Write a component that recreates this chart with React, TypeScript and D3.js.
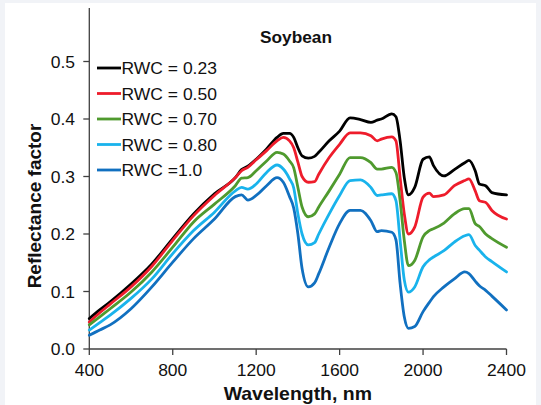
import React from "react";
import * as d3 from "d3";

const wavelengths = [400, 450, 500, 600, 700, 800, 900, 1000, 1100, 1130, 1160, 1200, 1250, 1300, 1330, 1360, 1380, 1400, 1420, 1450, 1480, 1500, 1550, 1600, 1650, 1700, 1750, 1780, 1800, 1850, 1870, 1890, 1910, 1930, 1960, 2000, 2030, 2050, 2100, 2150, 2200, 2220, 2250, 2270, 2300, 2330, 2400];

const rwc023 = [0.053, 0.068, 0.082, 0.113, 0.148, 0.192, 0.235, 0.27, 0.298, 0.312, 0.318, 0.33, 0.348, 0.368, 0.375, 0.375, 0.368, 0.35, 0.336, 0.332, 0.335, 0.342, 0.362, 0.379, 0.402, 0.399, 0.394, 0.398, 0.4, 0.409, 0.404, 0.362, 0.298, 0.268, 0.281, 0.33, 0.334, 0.319, 0.301, 0.312, 0.324, 0.328, 0.31, 0.287, 0.284, 0.272, 0.268];
const rwc050 = [0.047, 0.063, 0.078, 0.108, 0.144, 0.189, 0.232, 0.267, 0.298, 0.31, 0.316, 0.329, 0.345, 0.362, 0.368, 0.362, 0.35, 0.325, 0.3, 0.29, 0.291, 0.304, 0.333, 0.356, 0.376, 0.376, 0.371, 0.362, 0.365, 0.369, 0.362, 0.298, 0.235, 0.2, 0.212, 0.264, 0.271, 0.265, 0.268, 0.284, 0.293, 0.296, 0.275, 0.258, 0.255, 0.241, 0.226];
const rwc070 = [0.042, 0.056, 0.07, 0.099, 0.134, 0.177, 0.221, 0.252, 0.284, 0.297, 0.298, 0.31, 0.327, 0.342, 0.339, 0.327, 0.315, 0.281, 0.247, 0.23, 0.235, 0.247, 0.275, 0.304, 0.333, 0.333, 0.324, 0.313, 0.313, 0.316, 0.307, 0.258, 0.189, 0.145, 0.154, 0.195, 0.206, 0.209, 0.219, 0.235, 0.244, 0.244, 0.218, 0.213, 0.2, 0.192, 0.177];
const rwc080 = [0.033, 0.046, 0.059, 0.088, 0.122, 0.166, 0.206, 0.238, 0.275, 0.281, 0.278, 0.287, 0.307, 0.32, 0.313, 0.296, 0.28, 0.235, 0.2, 0.181, 0.185, 0.2, 0.235, 0.267, 0.293, 0.294, 0.281, 0.267, 0.268, 0.27, 0.258, 0.189, 0.12, 0.099, 0.108, 0.143, 0.155, 0.16, 0.171, 0.186, 0.197, 0.199, 0.18, 0.172, 0.16, 0.152, 0.134];
const rwc100 = [0.024, 0.033, 0.042, 0.07, 0.108, 0.151, 0.192, 0.226, 0.265, 0.268, 0.259, 0.267, 0.284, 0.298, 0.29, 0.265, 0.245, 0.2, 0.14, 0.108, 0.115, 0.131, 0.177, 0.218, 0.241, 0.241, 0.223, 0.204, 0.206, 0.203, 0.19, 0.114, 0.056, 0.036, 0.039, 0.065, 0.081, 0.091, 0.108, 0.122, 0.134, 0.131, 0.118, 0.11, 0.102, 0.092, 0.068];

const seriesLabels = ["RWC = 0.23", "RWC = 0.50", "RWC = 0.70", "RWC = 0.80", "RWC =1.0"];
const seriesValues = [rwc023, rwc050, rwc070, rwc080, rwc100];
const seriesColors = ["#000000", "#ee1c2b", "#4f9a2e", "#19b3ec", "#1170c0"];

const xTicks = [400, 800, 1200, 1600, 2000, 2400];
const yTicks = [0, 0.1, 0.2, 0.3, 0.4, 0.5];

const FONT = "'Liberation Sans', Arial, sans-serif";

function T({ x, y, anchor = "start", size, weight = "normal", sx = 1.06, children }: any) {
  return (
    <text
      transform={`translate(${x},${y}) scale(${sx},1)`}
      textAnchor={anchor}
      fontSize={size}
      fontWeight={weight}
      fontFamily={FONT}
      fill="#111"
    >
      {children}
    </text>
  );
}

export default function App() {
  const x = d3.scaleLinear().domain([400, 2400]).range([89.3, 506.5]);
  const y = d3.scaleLinear().domain([0, 0.5]).range([349, 61.5]);
  const line = d3
    .line<[number, number]>()
    .x((d) => x(d[0]))
    .y((d) => y(d[1]))
    .curve(d3.curveMonotoneX);
  const axisColor = "#404040";

  return (
    <svg
      width={541}
      height={405}
      style={{ position: "absolute", left: 0, top: 0, display: "block" }}
    >
      <rect x={0} y={0} width={541} height={405} fill="#f1f3f7" />
      <rect x={5} y={3} width={531} height={402} fill="#ffffff" />

      {/* axes */}
      <line x1={x(400)} x2={x(400)} y1={8} y2={y(0)} stroke={axisColor} strokeWidth={1.3} />
      <line x1={x(400)} x2={x(2400)} y1={y(0)} y2={y(0)} stroke={axisColor} strokeWidth={1.3} />
      {yTicks.map((t) => (
        <g key={"y" + t}>
          <line x1={x(400) - 6} x2={x(400)} y1={y(t)} y2={y(t)} stroke={axisColor} strokeWidth={1.3} />
          <T x={75} y={y(t) + 6} anchor="end" size={16.5}>
            {t.toFixed(1)}
          </T>
        </g>
      ))}
      {xTicks.map((t) => (
        <g key={"x" + t}>
          <line x1={x(t)} x2={x(t)} y1={y(0)} y2={y(0) + 6} stroke={axisColor} strokeWidth={1.3} />
          <T x={x(t)} y={376} anchor="middle" size={16.5}>
            {t}
          </T>
        </g>
      ))}

      {/* series */}
      {seriesValues.map((vals, i) => (
        <path
          key={seriesLabels[i]}
          d={line(wavelengths.map((w, j) => [w, vals[j]] as [number, number])) || ""}
          fill="none"
          stroke={seriesColors[i]}
          strokeWidth={2.8}
          strokeLinejoin="round"
          strokeLinecap="round"
        />
      ))}

      {/* title */}
      <T x={296} y={43} anchor="middle" size={16} weight="bold" sx={1.08}>
        Soybean
      </T>

      {/* legend */}
      {seriesLabels.map((lab, i) => {
        const ly = 68 + i * 25.5;
        return (
          <g key={"leg" + i}>
            <line x1={97} x2={121} y1={ly} y2={ly} stroke={seriesColors[i]} strokeWidth={2.8} />
            <T x={121.5} y={ly + 6} size={16.5}>
              {lab}
            </T>
          </g>
        );
      })}

      {/* axis titles */}
      <T x={297.8} y={400} anchor="middle" size={18} weight="bold" sx={1.08}>
        Wavelength, nm
      </T>
      <text
        transform={`translate(40.5,206) rotate(-90)`}
        textAnchor="middle"
        fontSize={19}
        fontWeight="bold"
        fontFamily={FONT}
        fill="#111"
      >
        Reflectance factor
      </text>
    </svg>
  );
}
